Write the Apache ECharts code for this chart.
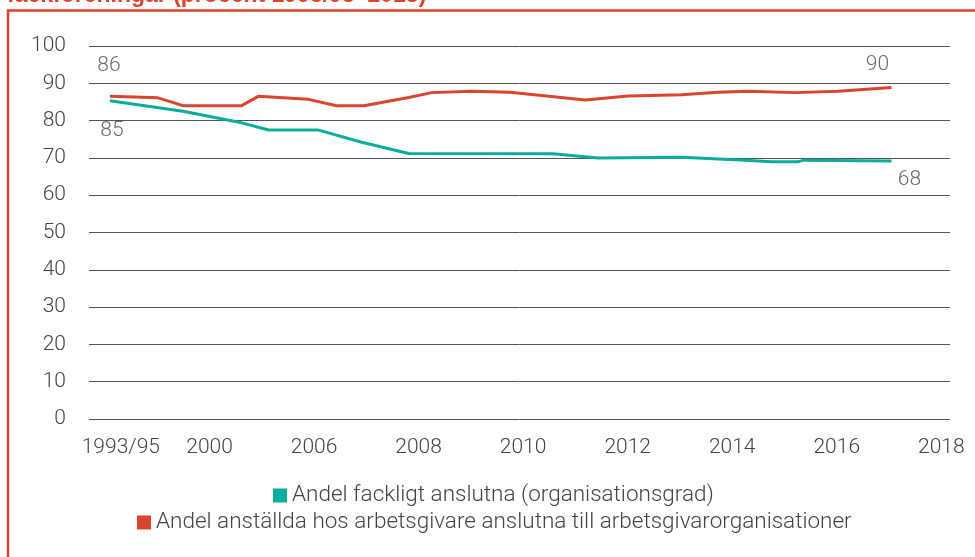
<!DOCTYPE html>
<html>
<head>
<meta charset="utf-8">
<script src="https://cdn.jsdelivr.net/npm/echarts@6/dist/echarts.min.js"></script>
<style>
html,body{margin:0;padding:0;background:#fff;}
#chart{width:975px;height:557px;}
</style>
</head>
<body>
<div id="chart"></div>
<script>
// Tick labels along the x axis
var xLabels = ['1993/95', '2000', '2006', '2008', '2010', '2012', '2014', '2016', '2018'];
// Series names
var nameFack = 'Andel fackligt anslutna (organisationsgrad)';
var nameArb = 'Andel anställda hos arbetsgivare anslutna till arbetsgivarorganisationer';
// Positions in label-index units (0 = first label, 1 = second label, ...)
var arbX = [0.27, 0.73, 0.97, 1.53, 1.69, 2.17, 2.44, 2.70, 3.13, 3.35, 3.73, 4.10, 4.82, 5.23, 5.74, 6.09, 6.38, 6.83, 7.24, 7.75];
var arbY = [86.5, 86.1, 84.0, 84.0, 86.5, 85.7, 84.0, 84.0, 86.2, 87.5, 87.9, 87.6, 85.5, 86.6, 86.9, 87.6, 87.9, 87.5, 87.9, 88.9];
var fackX = [0.27, 0.97, 1.53, 1.79, 2.26, 2.68, 3.13, 4.51, 4.94, 5.74, 6.35, 6.60, 6.86, 6.91, 7.75];
var fackY = [85.3, 82.5, 79.4, 77.5, 77.5, 74.2, 71.2, 71.1, 70.0, 70.2, 69.4, 69.0, 69.0, 69.4, 69.2];
// Annotated end values
var endLabels = ['86', '85', '90', '68'];
var yTicks = {min: 0, max: 100, interval: 10};

var RED = '#d9452f';
var GREEN = '#0aad9c';
var TXT = '#444444';
var FONT = 'Roboto';

function pairs(xs, ys) { return xs.map(function (x, i) { return [x, ys[i]]; }); }

var arbData = pairs(arbX, arbY);
var fackData = pairs(fackX, fackY);
var nA = arbData.length - 1, nF = fackData.length - 1;
var annOffsets = [[-1, -31], [2, 30], [-14, -23], [18, 19]];
var annData = [
  {value: arbData[0], label: {formatter: endLabels[0], offset: annOffsets[0]}},
  {value: fackData[0], label: {formatter: endLabels[1], offset: annOffsets[1]}},
  {value: arbData[nA], label: {formatter: endLabels[2], offset: annOffsets[2]}},
  {value: fackData[nF], label: {formatter: endLabels[3], offset: annOffsets[3]}}
];

var legendText = {color: TXT, fontFamily: FONT, fontWeight: 300, fontSize: 22.5};

var chart = echarts.init(document.getElementById('chart'), null, {renderer: 'canvas'});
chart.setOption({
  backgroundColor: '#ffffff',
  animation: false,
  graphic: [
    {type: 'rect', shape: {x: 8, y: 10.5, width: 1100, height: 700},
     style: {fill: 'none', stroke: RED, lineWidth: 2.5}, z: 10},
    {type: 'text', left: 7, top: -16,
     style: {text: 'fackföreningar (procent 1993/95–2018)', fill: RED,
             font: 'bold 23px "Liberation Sans", Arial, sans-serif'}, z: 10}
  ],
  grid: [
    {left: 89, right: 25, top: 46, bottom: 138},
    {left: 81.7, right: 57, top: 46, bottom: 138}
  ],
  xAxis: [
    {type: 'value', gridIndex: 0, min: 0.07, max: 8.31, show: false},
    {type: 'category', gridIndex: 1, data: xLabels, boundaryGap: false,
     axisLine: {show: false}, axisTick: {show: false}, splitLine: {show: false},
     axisLabel: {interval: 0, align: 'left', margin: 18, color: TXT,
                 fontFamily: FONT, fontWeight: 300, fontSize: 21}}
  ],
  yAxis: [
    {type: 'value', gridIndex: 0, min: yTicks.min, max: yTicks.max, interval: yTicks.interval,
     axisLine: {show: false}, axisTick: {show: false},
     splitLine: {lineStyle: {color: '#555', width: 1}},
     axisLabel: {margin: 23, color: TXT, fontFamily: FONT, fontWeight: 300, fontSize: 21}},
    {type: 'value', gridIndex: 1, show: false, min: 0, max: 100}
  ],
  legend: [
    {data: [{name: nameFack, icon: 'rect'}], left: 273, top: 484, padding: 0, itemWidth: 14, itemHeight: 14, itemGap: 5,
     textStyle: legendText},
    {data: [{name: nameArb, icon: 'rect'}], left: 137, top: 511, padding: 0, itemWidth: 14, itemHeight: 14, itemGap: 5,
     textStyle: legendText}
  ],
  series: [
    {name: nameFack, type: 'line', xAxisIndex: 0, yAxisIndex: 0, data: fackData,
     showSymbol: false, lineStyle: {color: GREEN, width: 3}, itemStyle: {color: GREEN}, z: 3},
    {name: nameArb, type: 'line', xAxisIndex: 0, yAxisIndex: 0, data: arbData,
     showSymbol: false, lineStyle: {color: RED, width: 3}, itemStyle: {color: RED}, z: 3},
    {name: 'ann', type: 'scatter', xAxisIndex: 0, yAxisIndex: 0, data: annData,
     symbolSize: 1, itemStyle: {color: 'rgba(0,0,0,0)'}, silent: true,
     label: {show: true, position: 'inside', color: TXT, fontFamily: FONT, fontWeight: 300, fontSize: 21}}
  ]
});
</script>
</body>
</html>
